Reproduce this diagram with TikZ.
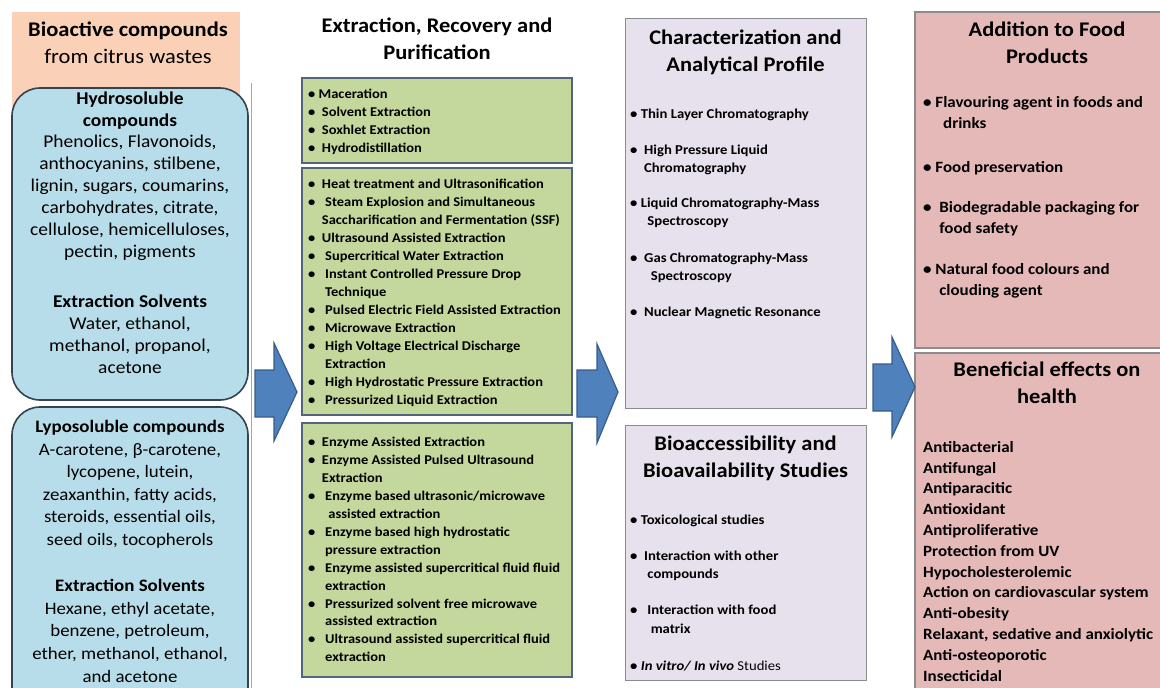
\documentclass[tikz,border=0pt]{standalone}
\usepackage{fontspec}
\setmainfont{Carlito}[FakeStretch=1.08]
\definecolor{peach}{HTML}{FAD0B6}
\definecolor{skyfill}{HTML}{B8DDEA}
\definecolor{skyline}{HTML}{34434F}
\definecolor{leaf}{HTML}{C4D79C}
\definecolor{leafline}{HTML}{53657A}
\definecolor{lilac}{HTML}{E6E1EC}
\definecolor{rose}{HTML}{E6B9B9}
\definecolor{frame}{HTML}{8C8C8C}
\definecolor{arrowfill}{HTML}{4F81BD}
\definecolor{arrowline}{HTML}{385D8A}
\begin{document}
\begin{tikzpicture}[x=1pt,y=-1pt,
  panel/.style={anchor=north west, inner sep=0pt, outer sep=0pt},
  skybox/.style={panel, draw=skyline, line width=1.6pt, fill=skyfill, rounded corners=28pt},
  leafbox/.style={panel, draw=leafline, line width=1.6pt, fill=leaf},
  lilacbox/.style={panel, draw=frame, line width=1pt, fill=lilac},
  rosebox/.style={panel, draw=frame, line width=1.2pt, fill=rose},
  blockarrow/.style={draw=arrowline, line width=1.2pt, fill=arrowfill},
  % multi-line nodes are anchored at the baseline of their last line
  head/.style={inner sep=0pt, anchor=base, align=center, font=\bfseries\fontsize{20.8}{26.5}\selectfont},
  lefttext/.style={inner sep=0pt, anchor=base, align=center, font=\fontsize{18}{21.9}\selectfont},
  leaflist/.style={inner sep=0pt, anchor=base west, align=left, font=\bfseries\fontsize{13.4}{18}\selectfont},
  lilaclist/.style={inner sep=0pt, anchor=base west, align=left, font=\bfseries\fontsize{13.6}{18}\selectfont},
  roselist/.style={inner sep=0pt, anchor=base west, align=left, font=\bfseries\fontsize{15.7}{21}\selectfont},
]
\useasboundingbox (0,0) rectangle (1160,688);
\clip (0,0) rectangle (1160,688);
\fill[white] (0,0) rectangle (1160,688);

% ---------- column 1: bioactive compounds ----------
\node[panel, fill=peach, minimum width=228pt, minimum height=118pt] (src) at (12,12) {};
\draw[black!35, line width=0.8pt] (251,83) coordinate (railtop) -- (251,688) coordinate (railbot);
\node[skybox, minimum width=236pt, minimum height=312pt] (hydro) at (12,88) {};
\node[skybox, minimum width=236pt, minimum height=320pt] (lipo) at (12,407) {};

\node[head] (srctitle) at (128,63) {Bioactive compounds\\\mdseries from citrus wastes};

\node[lefttext] (hydrotext) at (130,373) {\bfseries Hydrosoluble\\\bfseries compounds\\
Phenolics, Flavonoids,\\anthocyanins, stilbene,\\lignin, sugars, coumarins,\\
carbohydrates, citrate,\\cellulose, hemicelluloses,\\pectin, pigments\\[28pt]
\bfseries Extraction Solvents\\Water, ethanol,\\methanol, propanol,\\acetone};

\node[lefttext, font=\fontsize{17.5}{22.6}\selectfont] (lipotext) at (130,682) {\bfseries Lyposoluble compounds\\
A-carotene, β-carotene,\\lycopene, lutein,\\zeaxanthin, fatty acids,\\steroids, essential oils,\\
seed oils, tocopherols\\[23.5pt]
\bfseries Extraction Solvents\\Hexane, ethyl acetate,\\benzene, petroleum,\\ether, methanol, ethanol,\\and acetone};

% ---------- column 2: extraction, recovery and purification ----------
\node[head] (exttitle) at (437,59) {Extraction, Recovery and\\Purification};
\node[leafbox, minimum width=270pt, minimum height=85pt] (classic) at (302,78) {};
\node[leafbox, minimum width=270pt, minimum height=247pt] (novel) at (302,168) {};
\node[leafbox, minimum width=270pt, minimum height=254pt] (enzyme) at (302,423) {};

\node[leaflist] (classictext) at (308,152.3) {%
\textbullet\ Maceration\\
\textbullet\ \ Solvent Extraction\\
\textbullet\ \ Soxhlet Extraction\\
\textbullet\ \ Hydrodistillation};

\node[leaflist] (noveltext) at (308,404) {%
\textbullet\ \ Heat treatment and Ultrasonification\\
\textbullet\ \ \ Steam Explosion and Simultaneous\\
\hphantom{\textbullet\ \ }Saccharification and Fermentation (SSF)\\
\textbullet\ \ Ultrasound Assisted Extraction\\
\textbullet\ \ \ Supercritical Water Extraction\\
\textbullet\ \ \ Instant Controlled Pressure Drop\\
\hphantom{\textbullet\ \ \ }Technique\\
\textbullet\ \ \ Pulsed Electric Field Assisted Extraction\\
\textbullet\ \ \ Microwave Extraction\\
\textbullet\ \ \ High Voltage Electrical Discharge\\
\hphantom{\textbullet\ \ \ }Extraction\\
\textbullet\ \ \ High Hydrostatic Pressure Extraction\\
\textbullet\ \ \ Pressurized Liquid Extraction};

\node[leaflist, font=\bfseries\fontsize{13.4}{17.9}\selectfont] (enzymetext) at (308,661.7) {%
\textbullet\ \ Enzyme Assisted Extraction\\
\textbullet\ \ Enzyme Assisted Pulsed Ultrasound\\
\hphantom{\textbullet\ \ }Extraction\\
\textbullet\ \ \ Enzyme based ultrasonic/microwave\\
\hphantom{\textbullet\ \ \ \ }assisted extraction\\
\textbullet\ \ \ Enzyme based high hydrostatic\\
\hphantom{\textbullet\ \ \ }pressure extraction\\
\textbullet\ \ \ Enzyme assisted supercritical fluid fluid\\
\hphantom{\textbullet\ \ \ }extraction\\
\textbullet\ \ \ Pressurized solvent free microwave\\
\hphantom{\textbullet\ \ \ }assisted extraction\\
\textbullet\ \ \ Ultrasound assisted supercritical fluid\\
\hphantom{\textbullet\ \ \ }extraction};

% ---------- column 3: characterization and bioavailability ----------
\node[lilacbox, minimum width=241pt, minimum height=390pt] (profile) at (625,18) {};
\node[lilacbox, minimum width=241pt, minimum height=255pt] (bioav) at (625,425) {};

\node[head] (profiletitle) at (745.5,71) {Characterization and\\Analytical Profile};
\node[lilaclist] (profiletext) at (630,316) {%
\textbullet\ Thin Layer Chromatography\\[18pt]
\textbullet\ \ High Pressure Liquid\\
\hphantom{\textbullet\ \ }Chromatography\\[17pt]
\textbullet\ Liquid Chromatography-Mass\\
\hphantom{\textbullet\ \ \ }Spectroscopy\\[19pt]
\textbullet\ \ Gas Chromatography-Mass\\
\hphantom{\textbullet\ \ \ \ }Spectroscopy\\[18pt]
\textbullet\ \ Nuclear Magnetic Resonance};

\node[head] (bioavtitle) at (745.5,477) {Bioaccessibility and\\Bioavailability Studies};
\node[lilaclist, font=\bfseries\fontsize{13.6}{18.5}\selectfont] (bioavtext) at (630,670) {%
\textbullet\ Toxicological studies\\[17.5pt]
\textbullet\ \ Interaction with other\\
\hphantom{\textbullet\ \ \ }compounds\\[17.5pt]
\textbullet\ \ \ Interaction with food\\
\hphantom{\textbullet\ \ \ \ }matrix\\[18.5pt]
\textbullet\ \textit{In vitro/ In vivo} \mdseries Studies};

% ---------- column 4: applications ----------
\node[rosebox, minimum width=265pt, minimum height=336pt] (food) at (915,12) {};
\node[rosebox, minimum width=265pt, minimum height=360pt] (health) at (915,353) {};

\node[head] (foodtitle) at (1047,63) {Addition to Food\\Products};
\node[roselist] (foodtext) at (923,295) {%
\textbullet\ Flavouring agent in foods and\\
\hphantom{\textbullet\ \ \ }drinks\\[23pt]
\textbullet\ Food preservation\\[19pt]
\textbullet\ \ Biodegradable packaging for\\
\hphantom{\textbullet\ \ }food safety\\[20pt]
\textbullet\ Natural food colours and\\
\hphantom{\textbullet\ \ }clouding agent};

\node[head] (healthtitle) at (1047,403) {Beneficial effects on\\health};
\node[roselist, font=\bfseries\fontsize{15.7}{20.8}\selectfont] (healthtext) at (923,681) {%
Antibacterial\\Antifungal\\Antiparacitic\\Antioxidant\\Antiproliferative\\
Protection from UV\\Hypocholesterolemic\\Action on cardiovascular system\\
Anti-obesity\\Relaxant, sedative and anxiolytic\\Anti-osteoporotic\\Insecticidal};

% ---------- block arrows between the columns ----------
\draw[blockarrow] (255,370) -- (274,370) -- (274,343) -- (297,392) coordinate (tip1)
  -- (274,441) -- (274,417) -- (255,417) -- cycle;
\draw[blockarrow] (577,370) -- (597,370) -- (597,344) -- (618,392) coordinate (tip2)
  -- (597,443) -- (597,417) -- (577,417) -- cycle;
\draw[blockarrow] (873,364) -- (892,364) -- (892,337) -- (915,387) coordinate (tip3)
  -- (892,437) -- (892,411) -- (873,411) -- cycle;
\end{tikzpicture}
\end{document}
